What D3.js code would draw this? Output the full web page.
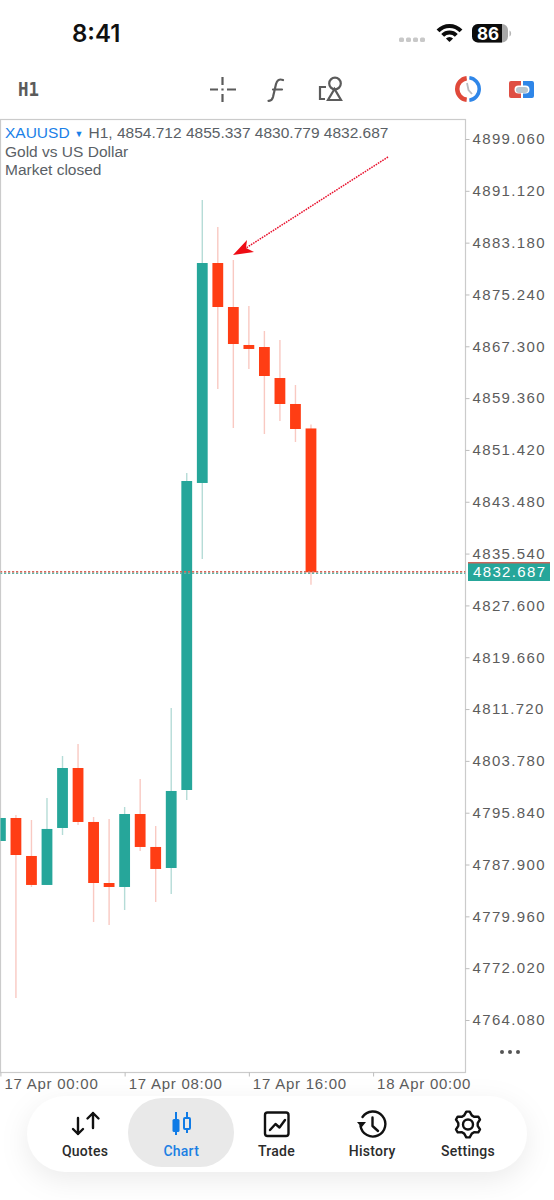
<!DOCTYPE html>
<meta charset="utf-8">
<style>
html, body { margin: 0; background: #fff; }
svg { display: block; font-family: "Liberation Sans", sans-serif; }
.axis path { display: none; }
.axis line { stroke: #bdbdbd; }
.axis text { font-size: 15px; fill: #5c5c5c; letter-spacing: 1.35px; font-family: "Liberation Sans", sans-serif; }
.axis--x text { letter-spacing: 0.75px; }
.tab { font-family: Roboto, sans-serif; font-size: 14px; font-weight: 500; letter-spacing: 0.25px; fill: #2b2b2b; text-anchor: middle; }
.icon { fill: none; stroke: #111; stroke-width: 2.4; stroke-linecap: round; stroke-linejoin: round; }
.tool { fill: none; stroke: #5b5b5b; stroke-width: 2.2; }
</style>
<svg width="554" height="1200"></svg>
<script src="https://d3js.org/d3.v7.min.js"></script>
<script>
// H1 candles, index 0 = 17 Apr 00:00
var opens  = [4791.51,4795.03,4789.21,4784.77,4793.50,4802.69,4794.42,4785.07,4784.46,4795.64,4790.59,4787.37,4799.32,4846.36,4880.06,4873.32,4867.50,4867.19,4862.44,4858.46,4854.712];
var highs  = [4795.03,4795.49,4794.72,4798.09,4804.53,4806.37,4795.18,4794.88,4796.72,4801.01,4793.80,4811.88,4847.89,4889.71,4885.58,4880.52,4873.47,4869.64,4868.26,4861.37,4855.337];
var lows   = [4791.51,4767.45,4784.46,4784.77,4792.43,4793.96,4779.10,4778.64,4780.94,4789.97,4782.16,4783.39,4797.79,4834.71,4860.76,4854.78,4863.82,4853.86,4855.86,4852.64,4830.779];
var closes = [4795.03,4789.36,4784.77,4793.35,4802.69,4794.42,4785.07,4784.46,4795.64,4790.59,4787.22,4799.17,4846.66,4880.06,4873.32,4867.65,4866.89,4862.75,4858.46,4854.63,4832.687];

var priceTicks = [4899.06,4891.12,4883.18,4875.24,4867.30,4859.36,4851.42,4843.48,4835.54,4827.60,4819.66,4811.72,4803.78,4795.84,4787.90,4779.96,4772.02,4764.08];
var timeTickIndex = [0, 8, 16, 24];
var timeTickLabels = ["17 Apr 00:00", "17 Apr 08:00", "17 Apr 16:00", "18 Apr 00:00"];
var lastPrice = 4832.687;

var green = "#26a69a", red = "#ff3d14", greenWick = "#b5dcd7", redWick = "#f9c9c2";

var svg = d3.select("svg");
var plot = {left: 0.5, right: 465.5, top: 119.5, bottom: 1072.5};

var x = d3.scaleLinear().domain([0, 24]).range([0.4, 373.1]);
var y = d3.scaleLinear().domain([4899.06, 4764.08]).range([139, 1020]);
var bodyWidth = 10.8;

// status bar
svg.append("text").attr("x", 72).attr("y", 42).attr("font-size", 24).attr("font-weight", 600)
    .attr("font-family", "Inter, sans-serif").attr("fill", "#111").text("8:41");
svg.selectAll(".sig").data([0, 1, 2, 3]).enter().append("rect")
    .attr("x", function(d) { return 399 + d * 7; }).attr("y", 37.5).attr("width", 5).attr("height", 4.5).attr("rx", 1.5).attr("fill", "#c8c8c8");
var wifi = svg.append("g").attr("transform", "translate(449.5,42)");
[[14, 18], [7.5, 11.5], [0, 5]].forEach(function(a) {
  wifi.append("path").attr("fill", "#0c0c0c")
      .attr("d", d3.arc()({innerRadius: a[0], outerRadius: a[1], startAngle: -0.8, endAngle: 0.8, cornerRadius: 0.8}));
});
svg.append("rect").attr("x", 472).attr("y", 24).attr("width", 36).attr("height", 18.5).attr("rx", 6).attr("fill", "#a8a8a8");
svg.append("path").attr("d", "M478 24H502V42.5H478a6 6 0 0 1-6-6V30a6 6 0 0 1 6-6z").attr("fill", "#0c0c0c");
svg.append("path").attr("d", "M509.5 30.5v6c1.2-.5 1.6-1.7 1.6-3s-.4-2.5-1.6-3z").attr("fill", "#b5b5b5");
svg.append("text").attr("x", 488).attr("y", 39.5).attr("text-anchor", "middle").attr("font-size", 17).attr("font-weight", 700)
    .attr("font-family", "Inter, sans-serif").attr("fill", "#fff").text("86");

// toolbar
svg.append("text").attr("x", 18).attr("y", 96).attr("font-size", 20).attr("font-weight", 700)
    .attr("textLength", 21).attr("lengthAdjust", "spacingAndGlyphs")
    .attr("font-family", "DejaVu Sans Mono, monospace").attr("fill", "#5b5b5b").text("H1");
svg.append("path").attr("class", "tool").attr("d", "M210 89.5h8M227 89.5h9M222.5 77v8M222.5 94v8M222.5 88.5v2");
svg.append("path").attr("class", "tool").attr("stroke-width", 2.6).attr("stroke-linecap", "round")
    .attr("d", "M283 80c-4-1.5-6 .5-7 4l-3 13c-.8 3-2.5 4-4.5 3.8M273 89.5h9");
svg.append("path").attr("class", "tool").attr("stroke-width", 2.6).attr("d", "M326 87h-6v12h5");
svg.append("circle").attr("class", "tool").attr("stroke-width", 2.4).attr("cx", 335).attr("cy", 83.5).attr("r", 5.8);
svg.append("path").attr("class", "tool").attr("stroke-width", 2.4).attr("d", "M334.5 89l-6.5 11h13z");
var clock = svg.append("g").attr("transform", "translate(468,89)");
clock.append("path").attr("fill", "#e0493a").attr("d", d3.arc()({innerRadius: 8.5, outerRadius: 13, startAngle: Math.PI + 0.12, endAngle: 2 * Math.PI - 0.12}));
clock.append("path").attr("fill", "#2f86e8").attr("d", d3.arc()({innerRadius: 9.5, outerRadius: 13, startAngle: 0.12, endAngle: Math.PI - 0.12}));
clock.append("path").attr("fill", "none").attr("stroke", "#b9bdc2").attr("stroke-width", 1.8).attr("d", "M-1-6L0.5 1L4 5");
svg.append("path").attr("fill", "#df4f44").attr("d", "M511 81h10v4.5h-2.5a3.5 3.5 0 0 0 0 8h2.5V98h-10a2 2 0 0 1-2-2V83a2 2 0 0 1 2-2z");
svg.append("path").attr("fill", "#2f86e8").attr("d", "M523 81h9a2 2 0 0 1 2 2v13a2 2 0 0 1-2 2h-9v-4.5h2.5a3.5 3.5 0 0 0 0-8H523z");
svg.append("rect").attr("x", 516).attr("y", 87).attr("width", 12).attr("height", 6).attr("rx", 3).attr("fill", "#b9c6cf");

// plot frame
svg.append("clipPath").attr("id", "plotClip").append("rect")
    .attr("x", plot.left).attr("y", plot.top).attr("width", plot.right - plot.left).attr("height", plot.bottom - plot.top);
svg.append("rect").attr("x", plot.left).attr("y", plot.top).attr("width", plot.right - plot.left).attr("height", plot.bottom - plot.top)
    .attr("fill", "#fff").attr("stroke", "#cbcbcb").attr("stroke-width", 1.2);

var g = svg.append("g").attr("clip-path", "url(#plotClip)");
var bars = d3.range(opens.length);

g.selectAll(".wick").data(bars).enter().append("line")
    .attr("class", "wick")
    .attr("x1", function(i) { return x(i); })
    .attr("x2", function(i) { return x(i); })
    .attr("y1", function(i) { return y(highs[i]); })
    .attr("y2", function(i) { return y(lows[i]); })
    .attr("stroke", function(i) { return closes[i] >= opens[i] ? greenWick : redWick; })
    .attr("stroke-width", 1.4);

g.selectAll(".body").data(bars).enter().append("rect")
    .attr("class", "body")
    .attr("x", function(i) { return x(i) - bodyWidth / 2; })
    .attr("y", function(i) { return y(Math.max(opens[i], closes[i])); })
    .attr("width", bodyWidth)
    .attr("height", function(i) { return Math.abs(y(opens[i]) - y(closes[i])); })
    .attr("fill", function(i) { return closes[i] >= opens[i] ? green : red; });

// last price line, red dots sitting on green dots
g.append("line").attr("x1", 0).attr("x2", plot.right).attr("y1", y(lastPrice) + 1).attr("y2", y(lastPrice) + 1)
    .attr("stroke", "#5fb5a8").attr("stroke-width", 1.6).attr("stroke-dasharray", "2.2 1.8");
g.append("line").attr("x1", 0).attr("x2", plot.right).attr("y1", y(lastPrice) - 0.4).attr("y2", y(lastPrice) - 0.4)
    .attr("stroke", "#d9665a").attr("stroke-width", 1.6).attr("stroke-dasharray", "2.2 1.8");

// hand drawn arrow on the screenshot
svg.append("line").attr("x1", 388).attr("y1", 157).attr("x2", 246).attr("y2", 248)
    .attr("stroke", "#e8112d").attr("stroke-width", 1.5).attr("stroke-dasharray", "1.6 1");
svg.append("path").attr("fill", "#ee0c14").attr("d", "M233 255L247 240L246 248L254 252z");

// legend
var legend = svg.append("text").attr("x", 5).attr("y", 138).attr("font-size", 15.5).attr("fill", "#5a5f66");
legend.append("tspan").attr("fill", "#1a7fe8").text("XAUUSD");
legend.append("tspan").attr("fill", "#1a7fe8").attr("font-size", 9).attr("dx", 5).attr("dy", -1).text("▼");
legend.append("tspan").attr("dx", 5).attr("dy", 1).text("H1, 4854.712 4855.337 4830.779 4832.687");
svg.append("text").attr("x", 5).attr("y", 157).attr("font-size", 15.5).attr("fill", "#5a5f66").text("Gold vs US Dollar");
svg.append("text").attr("x", 5).attr("y", 175).attr("font-size", 15.5).attr("fill", "#5a5f66").text("Market closed");

// axes
svg.append("g").attr("class", "axis axis--y").attr("transform", "translate(465.5,0)")
    .call(d3.axisRight(y).tickValues(priceTicks).tickSize(4).tickPadding(3).tickFormat(d3.format(".3f")));

svg.append("g").attr("class", "axis axis--x").attr("transform", "translate(0,1072.5)")
    .call(d3.axisBottom(x).tickValues(timeTickIndex).tickSize(4).tickFormat(function(d, i) { return timeTickLabels[i]; }))
  .selectAll("text")
    .attr("text-anchor", "start").attr("dx", 3.5).attr("y", 6);

// price tag
svg.append("rect").attr("x", 468).attr("y", 562).attr("width", 82).attr("height", 19).attr("fill", green);
svg.append("rect").attr("x", 468).attr("y", 562).attr("width", 82).attr("height", 1.5).attr("fill", "#c9675c");
svg.append("text").attr("x", 473).attr("y", y(lastPrice) + 5).attr("font-size", 15).attr("letter-spacing", 1.35)
    .attr("fill", "#fff").text(d3.format(".3f")(lastPrice));

svg.selectAll(".more").data([0, 1, 2]).enter().append("circle")
    .attr("cx", function(d) { return 502 + d * 8; }).attr("cy", 1052).attr("r", 2).attr("fill", "#555");

// bottom tab bar
svg.append("rect").attr("x", 27).attr("y", 1096).attr("width", 500).attr("height", 76).attr("rx", 38).attr("fill", "#fff")
    .style("filter", "drop-shadow(0 8px 14px rgba(0,0,0,0.08))");
svg.append("rect").attr("x", 128).attr("y", 1098).attr("width", 106).attr("height", 69).attr("rx", 34).attr("fill", "#e9e9e9");

var tabNames = ["Quotes", "Chart", "Trade", "History", "Settings"];
var tabX = d3.scalePoint().domain(tabNames).range([85, 468]);
svg.selectAll(".tab").data(tabNames).enter().append("text")
    .attr("class", "tab")
    .attr("x", function(d) { return tabX(d) + (d === "Chart" ? 0.5 : 0); })
    .attr("y", 1156)
    .style("fill", function(d) { return d === "Chart" ? "#1b7fe3" : null; })
    .text(function(d) { return d; });

svg.append("path").attr("class", "icon").attr("d", "M78 1118v16M73 1129l5 5 5-5M93 1128v-15M87.5 1118.5l5.5-5.5 5.5 5.5");
var blue = "#0f7be6";
svg.append("path").attr("stroke", blue).attr("stroke-width", 2).attr("d", "M176 1112v23M187 1112v21");
svg.append("rect").attr("x", 172.5).attr("y", 1119).attr("width", 7).attr("height", 13).attr("rx", 1.5).attr("fill", blue);
svg.append("rect").attr("x", 184).attr("y", 1118).attr("width", 6).attr("height", 11).attr("rx", 1).attr("fill", "#e9e9e9").attr("stroke", blue).attr("stroke-width", 2);
svg.append("rect").attr("class", "icon").attr("stroke-width", 2.6).attr("x", 265).attr("y", 1112.5).attr("width", 23.5).attr("height", 23.5).attr("rx", 2.5);
svg.append("path").attr("class", "icon").attr("stroke-width", 2).attr("d", "M270 1130l5.5-6 4 3.5 5.5-7.5");
svg.append("path").attr("class", "icon").attr("d", "M362.5 1117a12.5 12.5 0 1 1-2 9M372.5 1117.5v8.5l5.5 5");
svg.append("path").attr("fill", "#111").attr("d", "M357 1122h9l-4.5 5.5z");
var gear = svg.append("g").attr("transform", "translate(468,1124.5)");
gear.append("circle").attr("class", "icon").attr("r", 5);
// six teeth, two outer and two inner corners each
gear.append("path").attr("class", "icon").attr("d", d3.range(24).map(function(k) {
  var a = (k + 0.5) * Math.PI / 12 - Math.PI / 2 - Math.PI / 12, r = k % 4 < 2 ? 13 : 9.8;
  return (k ? "L" : "M") + (r * Math.cos(a)).toFixed(1) + " " + (r * Math.sin(a)).toFixed(1);
}).join("") + "Z");
</script>
